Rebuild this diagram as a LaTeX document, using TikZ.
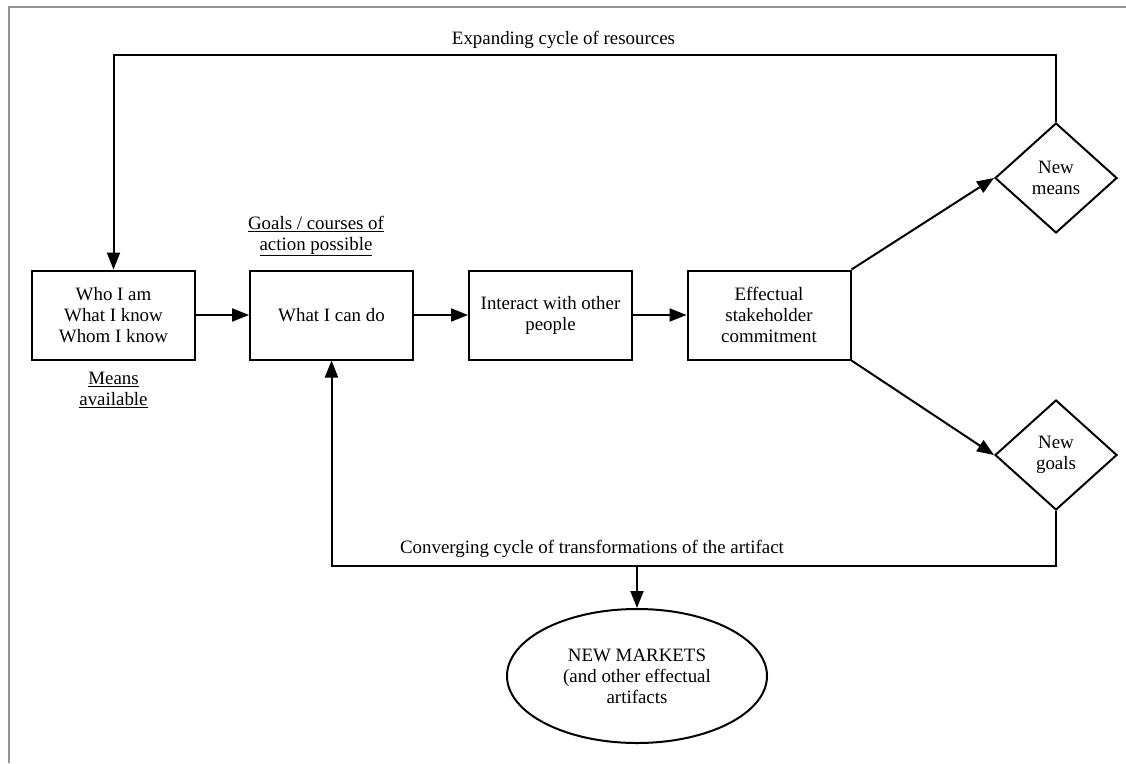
\documentclass[tikz,border=0pt]{standalone}
\usepackage{fontspec}
\setmainfont{Liberation Serif}
\usetikzlibrary{arrows.meta,shapes.geometric}

\begin{document}
\begin{tikzpicture}[x=1pt,y=-1pt,
  font=\fontsize{18.9}{21}\selectfont,
  line width=2pt,
  stepbox/.style={draw, rectangle, minimum width=163pt, minimum height=89pt,
    inner sep=0pt, align=center},
  choice/.style={draw, diamond, minimum width=122pt, minimum height=110pt,
    inner sep=0pt, align=center},
  outcome/.style={draw, ellipse, minimum width=260pt, minimum height=134pt,
    inner sep=0pt, align=center},
  flow/.style={-{Triangle[length=17pt,width=13pt]}, line join=miter},
  caption/.style={inner sep=0pt, align=center},
  frame/.style={draw=black!42, line width=2pt},
]
\useasboundingbox (0,0) rectangle (1126,763);

% page frame (top and left edges)
\draw[frame] (8.5,763) -- (8.5,6.5) -- (1126,6.5);

% main chain of steps
\node[stepbox] (means)   at (113.5,315) {Who I am\\What I know\\Whom I know};
\node[stepbox] (cando)   at (331.5,315) {What I can do};
\node[stepbox] (interact) at (550.5,315) {Interact with other\\people};
\node[stepbox] (commit)  at (769,315) {Effectual\\stakeholder\\commitment};

% outcomes of the commitment
\node[choice] (newmeans) at (1056,178) {New\\means};
\node[choice] (newgoals) at (1056,455) {New\\goals};

% final artifact
\node[outcome] (markets) at (637,676) {NEW MARKETS\\(and other effectual\\artifacts};

% captions
\node[caption] (goalscap) at (316,236) {\underline{Goals / courses of}\\\underline{action possible}};
\node[caption] (meanscap) at (113.5,390) {\underline{Means}\\\underline{available}};
\node[caption, anchor=base] (expcap) at (563.5,44) {Expanding cycle of resources};
\node[caption, anchor=base] (convcap) at (592,553) {Converging cycle of transformations of the artifact};

% loop corners
\coordinate (topR) at (1056,55);
\coordinate (topL) at (113.5,55);
\coordinate (botR) at (1056,566);
\coordinate (botL) at (331.5,566);
\coordinate (botM) at (637,566);

% connectors
\draw[flow] (means) -- (cando);
\draw[flow] (cando) -- (interact);
\draw[flow] (interact) -- (commit);
\draw[flow] (commit.north east) -- (newmeans.west);
\draw[flow] (commit.south east) -- (newgoals.west);
\draw[flow] (newmeans.north) -- (topR) -- (topL) -- (means.north);
\draw[flow] (newgoals.south) -- (botR) -- (botL) -- (cando.south);
\draw[flow] (botM) -- (markets.north);
\end{tikzpicture}
\end{document}
